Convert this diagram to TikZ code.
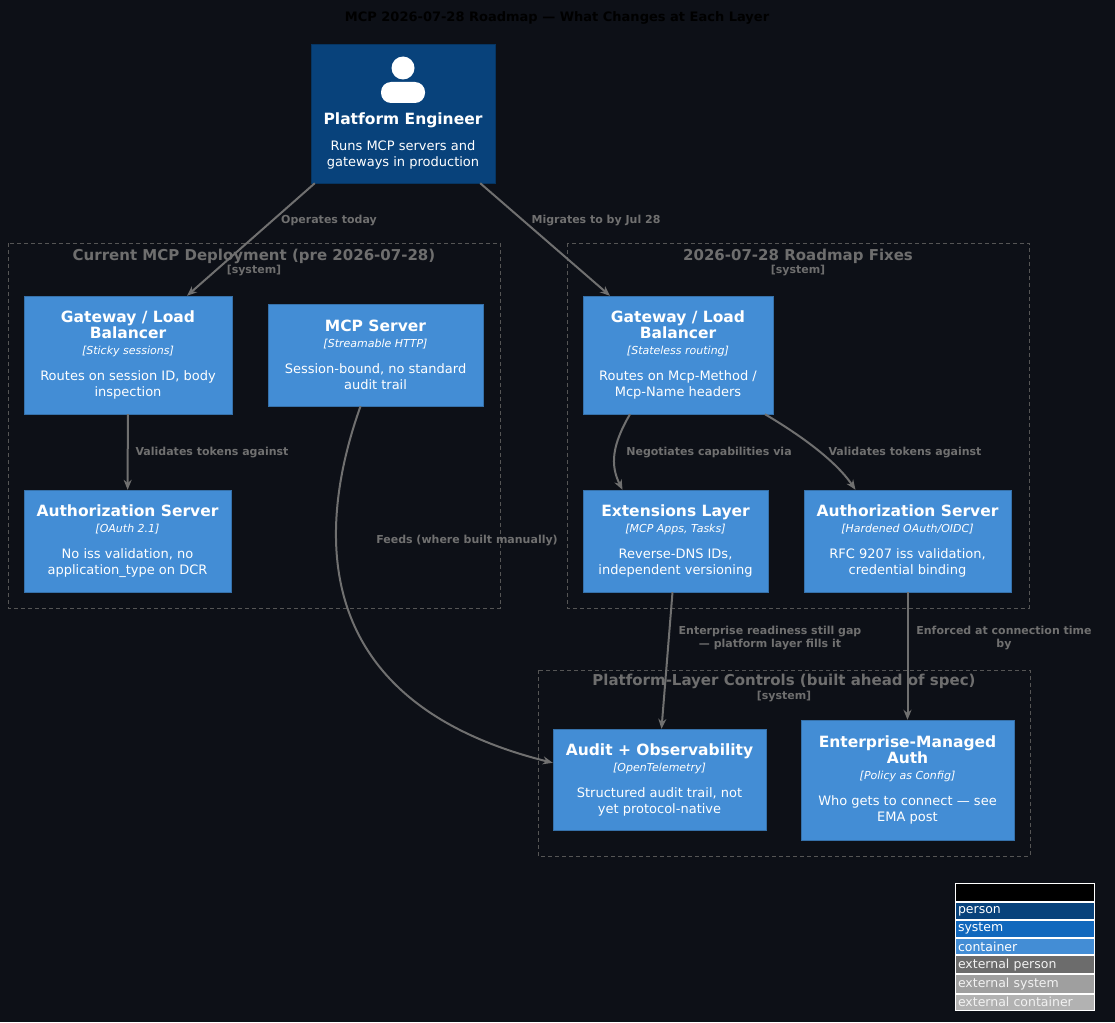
\documentclass[tikz,border=0pt]{standalone}
\usepackage{fontspec}
\setmainfont{DejaVu Sans}
\usetikzlibrary{arrows.meta,positioning}
\definecolor{bgc}{HTML}{0D1017}
\definecolor{contc}{HTML}{438DD5}
\definecolor{persc}{HTML}{08427B}
\definecolor{sysc}{HTML}{1168BD}
\definecolor{relc}{HTML}{707070}
\definecolor{bndc}{HTML}{555555}
\newcommand{\nm}[1]{{\fontsize{15.5}{18}\selectfont\bfseries #1}}
\newcommand{\tc}[1]{{\fontsize{11}{14}\selectfont\itshape [#1]}}
\tikzset{
  box/.style={draw=contc!80!black, fill=contc, text=white, align=center, inner sep=0pt,
    font=\fontsize{13}{16}\selectfont},
  boundary/.style={draw=bndc, dashed, dash pattern=on 4pt off 3pt},
  btitle/.style={text=bndc!85!white, font=\fontsize{15}{17}\selectfont\bfseries},
  bsys/.style={text=bndc!85!white, font=\fontsize{11}{13}\selectfont\bfseries},
  rel/.style={draw=relc, line width=2pt, -{Stealth[length=10pt,width=8pt]}},
  lbl/.style={text=relc, align=center, font=\fontsize{11}{13}\selectfont\bfseries},
  leg/.style={draw=white, line width=1pt, minimum width=139pt, minimum height=16.4pt, anchor=north west,
    inner sep=3pt, text=white, font=\fontsize{12.5}{14}\selectfont, text width=133pt}
}
\begin{document}
\begin{tikzpicture}[x=1pt,y=-1pt]
\fill[bgc] (0,0) rectangle (1115,1022);
\useasboundingbox (0,0) rectangle (1115,1022);
\node[font=\fontsize{13}{15}\selectfont\bfseries] (title) at (557,18) {MCP 2026-07-28 Roadmap — What Changes at Each Layer};

% boundaries
\draw[boundary] (8,243) rectangle (500,608);
\node[btitle] (b1t) at (254,256) {Current MCP Deployment (pre 2026-07-28)};
\node[bsys] (b1s) at (254,271) {[system]};
\draw[boundary] (567,243) rectangle (1029,608);
\node[btitle] (b2t) at (798,256) {2026-07-28 Roadmap Fixes};
\node[bsys] (b2s) at (798,271) {[system]};
\draw[boundary] (538,670) rectangle (1030,856);
\node[btitle] (b3t) at (784,681) {Platform-Layer Controls (built ahead of spec)};
\node[bsys] (b3s) at (784,696) {[system]};

% person
\node[box, fill=persc, draw=persc!80!black, minimum width=184pt, minimum height=139pt] (eng) at (403,113.5) {};
\fill[white] (403,68) circle (11.5);
\fill[white, rounded corners=10pt] (381,103) -- (381,82) -- (425,82) -- (425,103) -- cycle;
\node[text=white, align=center, font=\fontsize{13}{16}\selectfont] (engt) at (403,141)
  {\nm{Platform Engineer}\\[10pt] Runs MCP servers and\\gateways in production};

% containers
\node[box, minimum width=208pt, minimum height=118pt] (gw1) at (128,355)
  {\nm{Gateway / Load}\\\nm{Balancer}\\\tc{Sticky sessions}\\[10pt]Routes on session ID, body\\inspection};
\node[box, minimum width=215pt, minimum height=102pt] (mcp) at (375.5,355)
  {\nm{MCP Server}\\\tc{Streamable HTTP}\\[10pt]Session-bound, no standard\\audit trail};
\node[box, minimum width=207pt, minimum height=102pt] (auth1) at (127.5,541)
  {\nm{Authorization Server}\\\tc{OAuth 2.1}\\[10pt]No iss validation, no\\application\_type on DCR};
\node[box, minimum width=190pt, minimum height=118pt] (gw2) at (678,355)
  {\nm{Gateway / Load}\\\nm{Balancer}\\\tc{Stateless routing}\\[10pt]Routes on Mcp-Method /\\Mcp-Name headers};
\node[box, minimum width=185pt, minimum height=102pt] (ext) at (675.5,541)
  {\nm{Extensions Layer}\\\tc{MCP Apps, Tasks}\\[10pt]Reverse-DNS IDs,\\independent versioning};
\node[box, minimum width=207pt, minimum height=102pt] (auth2) at (907.5,541)
  {\nm{Authorization Server}\\\tc{Hardened OAuth/OIDC}\\[10pt]RFC 9207 iss validation,\\credential binding};
\node[box, minimum width=213pt, minimum height=101pt] (audit) at (659.5,779.5)
  {\nm{Audit + Observability}\\\tc{OpenTelemetry}\\[10pt]Structured audit trail, not\\yet protocol-native};
\node[box, minimum width=213pt, minimum height=120pt] (ema) at (907.5,780)
  {\nm{Enterprise-Managed}\\\nm{Auth}\\\tc{Policy as Config}\\[10pt]Who gets to connect — see\\EMA post};

% relations
\draw[rel] ([xshift=4pt]eng.south west) -- ([xshift=59pt]gw1.north);
\node[lbl] (l1) at (329,221) {Operates today};
\draw[rel] ([xshift=-15pt]eng.south east) -- ([xshift=-68pt]gw2.north);
\node[lbl] (l2) at (596,221) {Migrates to by Jul 28};
\draw[rel] (gw1) -- (auth1);
\node[lbl] (l3) at (212,453) {Validates tokens against};
\draw[rel] ([xshift=-15pt]mcp.south) .. controls (320,520) and (300,700) .. ([yshift=-34pt]audit.north west);
\node[lbl] (l4) at (467,541) {Feeds (where built manually)};
\draw[rel] ([xshift=-48pt]gw2.south) .. controls (612,445) and (610,465) .. ([xshift=-53pt]ext.north);
\node[lbl] (l5) at (709,453) {Negotiates capabilities via};
\draw[rel] ([xshift=87pt]gw2.south) .. controls (800,435) and (835,460) .. ([xshift=-52pt]auth2.north);
\node[lbl] (l6) at (905,453) {Validates tokens against};
\draw[rel] ([xshift=-3pt]ext.south) -- ([xshift=2pt]audit.north);
\node[lbl] (l7) at (770,638) {Enterprise readiness still gap\\— platform layer fills it};
\draw[rel] (auth2) -- (ema);
\node[lbl] (l8) at (1004,638) {Enforced at connection time\\by};

% legend
\node[leg, fill=black, text=black, font=\fontsize{12.5}{14}\selectfont\bfseries] (lg0) at (954.5,883) {Legend};
\node[leg, fill=persc] (lg1) at (lg0.south west) {person};
\node[leg, fill=sysc] (lg2) at (lg1.south west) {system};
\node[leg, fill=contc] (lg3) at (lg2.south west) {container};
\node[leg, fill=gray!85!black, text=white!90!gray] (lg4) at (lg3.south west) {external person};
\node[leg, fill=gray!75, text=white!90!gray] (lg5) at (lg4.south west) {external system};
\node[leg, fill=gray!60, text=white!90!gray] (lg6) at (lg5.south west) {external container};
\end{tikzpicture}
\end{document}
